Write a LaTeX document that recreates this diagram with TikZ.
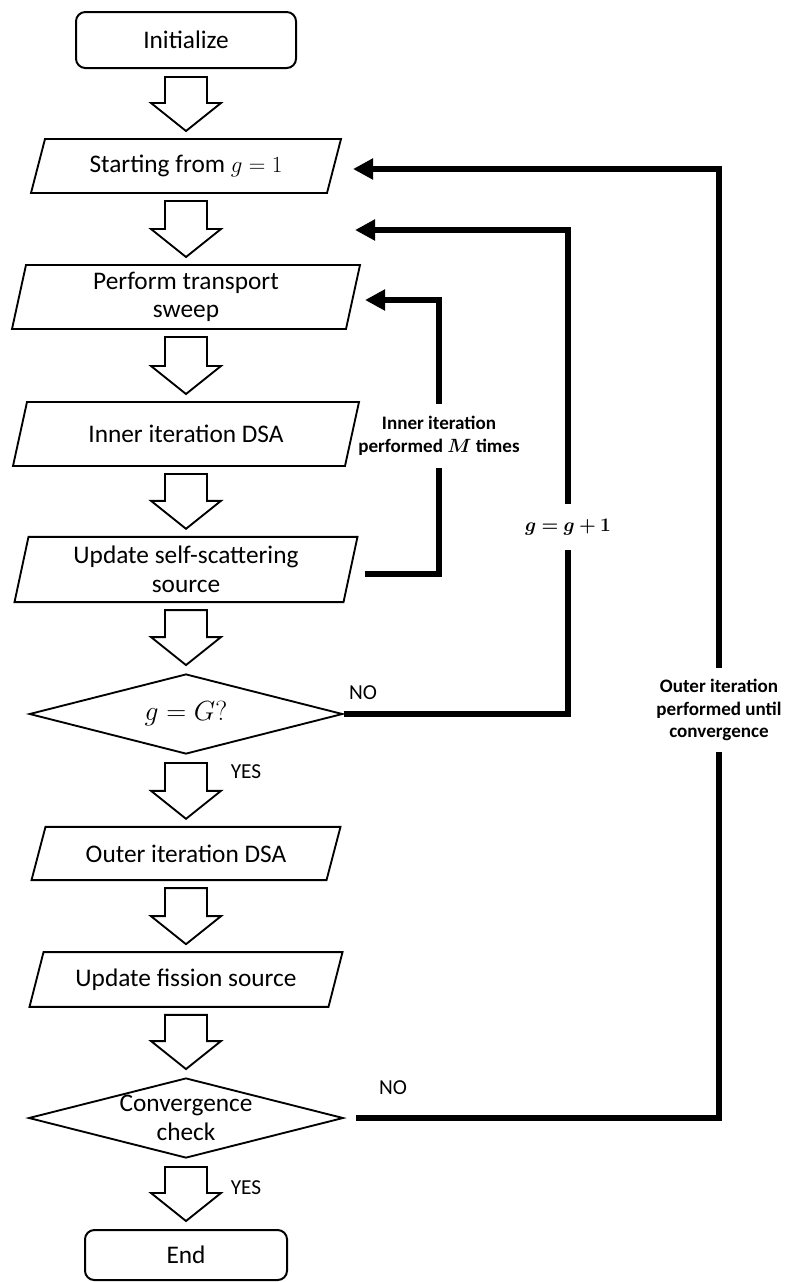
\documentclass[tikz,border=0pt]{standalone}
\usepackage{fontspec}
\setmainfont{Carlito}
\usepackage{bm}
\usetikzlibrary{shapes.geometric,arrows.meta,calc}

\newcommand{\mainsize}{\fontsize{19}{21.5}\selectfont}
\newcommand{\notesize}{\fontsize{14.3}{17}\selectfont}
\newcommand{\answersize}{\fontsize{16}{19}\selectfont}

\tikzset{
  termbox/.style={draw, line width=1.5pt, rounded corners=7pt, font=\mainsize},
  iobox/.style={rectangle, inner sep=0pt, outer sep=0pt, align=center, font=\mainsize},
  decision/.style={draw, line width=1.4pt, diamond, inner sep=0pt, font=\mainsize},
  hollow/.style={draw, line width=1.4pt, fill=white},
  loopline/.style={line width=4.5pt},
  looparrow/.style={line width=4.5pt, -{Triangle[length=15pt,width=15pt]}},
  sidenote/.style={font=\notesize\bfseries, align=center, inner xsep=2pt},
  answer/.style={font=\answersize},
}

% fat hollow arrow going down from one box to the next
\newcommand{\hollowarrow}[2]{%
  \draw[hollow] ($(#1.center |- #1.south)+(-21,8)$) -- ($(#1.center |- #1.south)+(21,8)$)
    -- ($(#2.center |- #2.north)+(21,-36)$) -- ($(#2.center |- #2.north)+(35,-36)$)
    -- ($(#2.center |- #2.north)+(0,-8)$) -- ($(#2.center |- #2.north)+(-35,-36)$)
    -- ($(#2.center |- #2.north)+(-21,-36)$) -- cycle;}

\begin{document}
\begin{tikzpicture}[x=0.75pt, y=-0.75pt]
\useasboundingbox (0,0) rectangle (787,1282);
% main column
\node[termbox, minimum width=165pt, minimum height=42pt] (init) at (186,40) {Initialize};
\node[iobox, minimum width=222pt, minimum height=40.5pt] (start) at (186,166) {Starting from $g=1$};
\node[iobox, minimum width=250.5pt, minimum height=48pt] (sweep) at (186,297) {Perform transport\\sweep};
\node[iobox, minimum width=249pt, minimum height=48pt] (innerdsa) at (186,434) {Inner iteration DSA};
\node[iobox, minimum width=246.75pt, minimum height=49pt] (selfscat) at (186,569.5) {Update self-scattering\\source};
\node[decision, minimum width=235pt, minimum height=60pt,
  label={[font=\fontsize{21}{23}\selectfont]center:$g=G?$}] (grpchk) at (186,714) {};
\node[iobox, minimum width=221.25pt, minimum height=40pt] (outerdsa) at (186,853.5) {Outer iteration DSA};
\node[iobox, minimum width=224.25pt, minimum height=41pt] (fission) at (186,979.5) {Update fission source};
\node[decision, minimum width=236pt, minimum height=60pt,
  label={[font=\mainsize, align=center]center:{Convergence\\check}}] (convchk) at (186,1118) {};
\node[termbox, minimum width=151.5pt, minimum height=37.5pt] (finish) at (186,1255) {End};

% slanted outlines of the input/output boxes
\foreach \n in {start, sweep, innerdsa, selfscat, outerdsa, fission}
  \draw[line width=1.4pt] ($(\n.south west)+(-7,0)$) -- ($(\n.north west)+(7,0)$)
    -- ($(\n.north east)+(7,0)$) -- ($(\n.south east)+(-7,0)$) -- cycle;

\foreach \a/\b in {init/start, start/sweep, sweep/innerdsa, innerdsa/selfscat,
  selfscat/grpchk, grpchk/outerdsa, outerdsa/fission, fission/convchk, convchk/finish}
  \hollowarrow{\a}{\b};

% answers
\node[answer] (no1) at (363,693) {NO};
\node[answer] (yes1) at (246,772) {YES};
\node[answer] (no2) at (393,1088) {NO};
\node[answer] (yes2) at (246,1188) {YES};

% feedback loops
\node[sidenote, inner ysep=9pt] (innerlbl) at (439,436) {Inner iteration\\performed $\bm{M}$ times};
\node[sidenote, inner ysep=11pt] (gpluslbl) at (568,527) {$\bm{g=g+1}$};
\node[sidenote, inner ysep=8pt] (outerlbl) at (719,710) {Outer iteration\\performed until\\convergence};
\coordinate (gtip) at (355,230);

\draw[loopline] ($(selfscat.east)+(14,4.5)$) -| (innerlbl.south);
\draw[looparrow] (innerlbl.north) |- ($(sweep.east)+(12,3)$);
\draw[loopline] (grpchk.east) -| (gpluslbl.south);
\draw[looparrow] (gpluslbl.north) |- (gtip);
\draw[loopline] ($(convchk.east)+(12,0)$) -| (outerlbl.south);
\draw[looparrow] (outerlbl.north) |- ($(start.east)+(19,3)$);
\end{tikzpicture}
\end{document}
